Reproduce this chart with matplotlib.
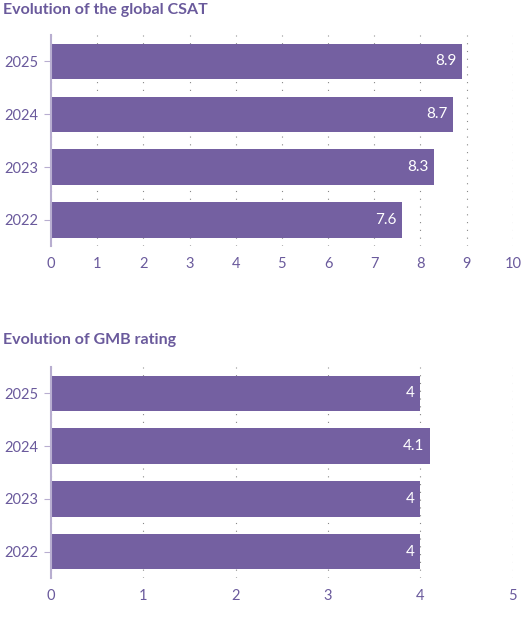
import matplotlib
matplotlib.use("Agg")
import matplotlib.pyplot as plt

years = ["2022", "2023", "2024", "2025"]
csat = [7.6, 8.3, 8.7, 8.9]
gmb = [4, 4, 4.1, 4]
csat_labels = ["7.6", "8.3", "8.7", "8.9"]
gmb_labels = ["4", "4", "4.1", "4"]

plt.rcParams['font.family'] = ['Lato', 'DejaVu Sans']
BAR = "#7460a1"
TXT = "#6a5a9c"
SPINE = "#b8aed0"

fig = plt.figure(figsize=(5.26, 6.38), dpi=100)

def panel(rect, vals, labs, xmax, title, title_y):
    ax = fig.add_axes(rect)
    ax.barh(years, vals, height=0.67, color=BAR, zorder=2)
    for i, (v, l) in enumerate(zip(vals, labs)):
        ax.text(v - 0.012 * xmax, i, l, color="white", ha="right", va="center", fontsize=11, zorder=3)
    ax.set_xlim(0, xmax)
    ax.set_ylim(-0.5, 3.5)
    ax.set_xticks(range(0, xmax + 1))
    ax.tick_params(axis='x', length=0, labelcolor=TXT, labelsize=10.5, pad=8)
    ax.tick_params(axis='y', length=5, color=SPINE, labelcolor=TXT, labelsize=10.5, pad=4)
    for s in ["top", "right", "bottom"]:
        ax.spines[s].set_visible(False)
    ax.spines["left"].set_color(SPINE)
    ax.spines["left"].set_linewidth(1.5)
    ax.grid(axis='x', color="#888888", linestyle=(0, (1, 6)), linewidth=0.8, zorder=0)
    fig.text(0.005, title_y, title, color=TXT, fontsize=11.5, fontweight='bold', va="center")
    return ax

panel([0.097, 0.614, 0.878, 0.331], csat, csat_labels, 10, "Evolution of the global CSAT", 0.985)
panel([0.097, 0.094, 0.878, 0.331], gmb, gmb_labels, 5, "Evolution of GMB rating", 0.467)

fig.savefig("out.png", dpi=100)
